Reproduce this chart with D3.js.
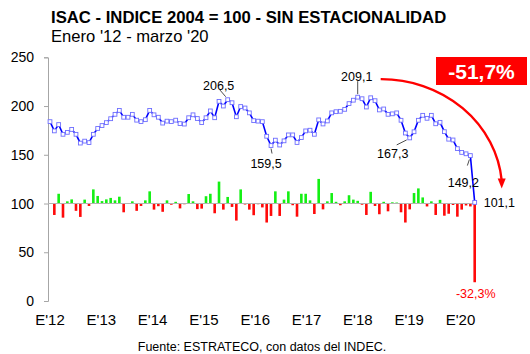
<!DOCTYPE html>
<html>
<head>
<meta charset="utf-8">
<script src="https://cdn.jsdelivr.net/npm/d3@7"></script>
<style>
  body { margin: 0; background: #fff; }
  text { font-family: "Liberation Sans", Arial, sans-serif; }
</style>
</head>
<body>
<script>
// ISAC monthly index, Jan 2012 .. Mar 2020
var isac = [184,174.5,181,171,173,176,171,162,164,162.5,171,177,
  180,183,187,191.5,195.5,188.5,188.5,191.5,185.5,184,186,195.5,
  191,188.5,182.5,184.5,184,185.5,182,181.5,188,191,187.2,183,
  188,195,188,204.8,200,206.5,203.4,189,199.5,198,193,185,
  184.5,184,169,159.5,165,160,164.3,170.4,170.4,162.6,167.7,174.5,
  175.2,171,185.8,181.6,184.7,193,194.2,194.6,196.6,202.5,206,209.1,
  207.5,199,208.5,205.5,196,197,191.5,192,193,185.4,172.3,167.3,
  173.6,185.4,190.5,187.4,190.5,181.8,183.3,173.7,166,165.2,156.3,152.4,
  151,149.2,101.1];

// monthly % change (bars around 100)
var change = [0,-4.7,4.0,-5.8,0.9,1.7,-3.0,-5.5,1.6,-1.0,5.8,3.1,
  1.0,1.7,2.3,1.3,2.8,-3.6,0,0.9,-3.0,-1.0,1.3,5.0,
  -2.5,-1.1,-3.4,1.3,-0.5,0.7,-2.0,-0.3,3.9,0.9,-2.3,-2.1,
  3.0,4.0,-4.0,9.0,-2.5,2.7,-1.4,-7.0,5.8,-0.4,-2.5,-4.8,
  -0.3,-1.6,-7.8,-5.1,5.0,-5.1,1.6,5.0,-0.7,-5.4,4.0,4.0,
  1.3,-4.3,10.1,-2.4,0.9,4.3,0.7,-0.7,0.9,3.4,1.6,1.1,
  -0.5,-4.7,4.8,-1.0,-4.4,0.7,-3.2,0.5,0.4,-3.6,-7.8,-2.4,
  4.3,6.2,2.5,-1.2,0.9,-4.7,1.5,-5.0,-4.2,-0.6,-5.4,-2.5,
  -0.8,-1.2,-32.3];

var yearLabels = ["E'12","E'13","E'14","E'15","E'16","E'17","E'18","E'19","E'20"];
var yTicks = [0,50,100,150,200,250];

var callouts = [
  {i:41, text:"206,5"},
  {i:51, text:"159,5"},
  {i:71, text:"209,1"},
  {i:83, text:"167,3"},
  {i:97, text:"149,2"}
];

var W = 530, H = 354;
var svg = d3.select("body").append("svg").attr("width", W).attr("height", H);

var x = d3.scaleLinear().domain([0, isac.length - 1]).range([50, 474.7]);
var y = d3.scaleLinear().domain([0, 250]).range([301, 57.3]);
var xl = d3.scalePoint().domain(yearLabels).range([50, 460.5]);
var barScale = 2.5; // index points per 1 % change

// title
svg.append("text").attr("x", 51).attr("y", 23)
  .attr("font-size", 16.7).attr("font-weight", "bold")
  .text("ISAC - INDICE 2004 = 100 - SIN ESTACIONALIDAD");
svg.append("text").attr("x", 51).attr("y", 42)
  .attr("font-size", 16.6)
  .text("Enero '12 - marzo '20");

// y axis
var yAxis = svg.append("g").attr("transform", "translate(48,0)")
  .call(d3.axisLeft(y).tickValues(yTicks).tickSize(4).tickPadding(10));
yAxis.selectAll("path,line").attr("stroke", "#a6a6a6");
yAxis.selectAll("text").attr("font-size", 14).attr("fill", "#000")
  .attr("font-family", "Liberation Sans, Arial, sans-serif");

// x labels
svg.append("g").selectAll("text").data(yearLabels).enter().append("text")
  .attr("x", function(d){ return xl(d); })
  .attr("y", 325)
  .attr("text-anchor", "middle")
  .attr("font-size", 15)
  .text(function(d){ return d; });

// bars
var bw = 2.6;
svg.append("g").selectAll("rect").data(change).enter().append("rect")
  .attr("x", function(d,i){ return x(i) - bw/2; })
  .attr("y", function(d){ return d >= 0 ? y(100 + d*barScale) : y(100); })
  .attr("width", bw)
  .attr("height", function(d){ return Math.abs(y(100 + d*barScale) - y(100)); })
  .attr("fill", function(d){ return d >= 0 ? "#14f014" : "#ff0a0a"; });

// baseline at 100
svg.append("line")
  .attr("x1", 48).attr("x2", x(isac.length - 1))
  .attr("y1", y(100)).attr("y2", y(100))
  .attr("stroke", "#b4b4b4").attr("stroke-width", 1.2);

// line
var line = d3.line().x(function(d,i){ return x(i); }).y(function(d){ return y(d); });
svg.append("path").datum(isac)
  .attr("d", line)
  .attr("fill", "none")
  .attr("stroke", "#0000ff")
  .attr("stroke-width", 1.6);

var ms = 3.8;
svg.append("g").selectAll("rect").data(isac).enter().append("rect")
  .attr("x", function(d,i){ return x(i) - ms/2; })
  .attr("y", function(d){ return y(d) - ms/2; })
  .attr("width", ms).attr("height", ms)
  .attr("fill", "#fff")
  .attr("stroke", "#6e6eff")
  .attr("stroke-width", 0.9);

// callouts (label offsets relative to the point)
var offs = {
  41: {lx:-9, ly:-14, x1:-2, y1:-3, x2:-8, y2:-10, anchor:"middle"},
  51: {lx:-5, ly:18, x1:0, y1:3, x2:1, y2:8, anchor:"middle"},
  71: {lx:-1, ly:-20, x1:0, y1:-3, x2:0, y2:-16, anchor:"middle"},
  83: {lx:-17, ly:16, x1:-3, y1:2, x2:-13, y2:7, anchor:"middle"},
  97: {lx:-7, ly:27, x1:-1, y1:4, x2:-3, y2:10, anchor:"middle"}
};
var cg = svg.append("g");
callouts.forEach(function(c){
  var o = offs[c.i], px = x(c.i), py = y(isac[c.i]);
  cg.append("line")
    .attr("x1", px + o.x1).attr("y1", py + o.y1)
    .attr("x2", px + o.x2).attr("y2", py + o.y2)
    .attr("stroke", "#000").attr("stroke-width", 0.7);
  cg.append("text").attr("x", px + o.lx).attr("y", py + o.ly + 4)
    .attr("text-anchor", o.anchor).attr("font-size", 12.5)
    .text(c.text);
});

// last value and last change
var last = isac.length - 1;
svg.append("text").attr("x", x(last) + 9).attr("y", y(isac[last]) + 4.5)
  .attr("font-size", 12.5).text("101,1");
svg.append("text").attr("x", x(last) + 1).attr("y", y(100 + change[last]*barScale) + 16)
  .attr("text-anchor", "middle").attr("font-size", 12.5).attr("fill", "#ff0000")
  .text("-32,3%");

// red arrow from peak to last point
var ax0 = x(71) + 23, ay0 = y(isac[71]) - 18;
var ax1 = x(last) + 27, ay1 = y(isac[last]) - 16;
svg.append("path")
  .attr("d", "M" + ax0 + "," + ay0 + " A" + (ax1 - ax0) + "," + (ay1 - ay0 + 4) + " 0 0 1 " + ax1 + "," + (ay1 - 6))
  .attr("fill", "none").attr("stroke", "#ff0000").attr("stroke-width", 2.4);
svg.append("path")
  .attr("d", "M" + (ax1 - 4) + "," + (ay1 - 8) + " L" + (ax1 + 4) + "," + (ay1 - 8) + " L" + ax1 + "," + (ay1 + 2) + "Z")
  .attr("fill", "#ff0000");

// -51,7% box
svg.append("rect").attr("x", 436).attr("y", 57).attr("width", 91).attr("height", 28)
  .attr("fill", "#ff0000");
svg.append("text").attr("x", 481.5).attr("y", 79)
  .attr("text-anchor", "middle").attr("font-size", 21).attr("font-weight", "bold")
  .attr("fill", "#fff").text("-51,7%");

// source
svg.append("text").attr("x", 262).attr("y", 351)
  .attr("text-anchor", "middle").attr("font-size", 12.5)
  .text("Fuente: ESTRATECO, con datos del INDEC.");
</script>
</body>
</html>
